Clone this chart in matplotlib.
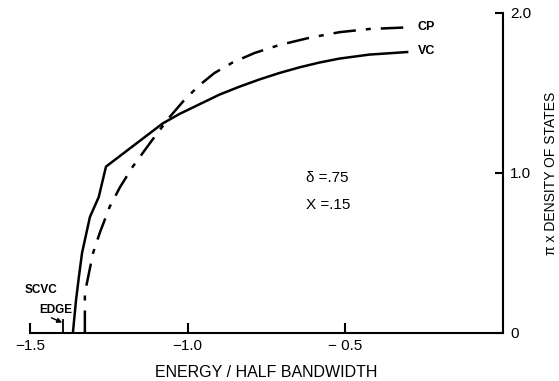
import matplotlib
matplotlib.use('Agg')
import matplotlib.pyplot as plt

# VC curve
E_vc = [-1.364, -1.354, -1.345, -1.335, -1.310, -1.282, -1.259, -1.079, -1.025, -0.962, -0.899,
        -0.835, -0.772, -0.709, -0.646, -0.583, -0.519, -0.424, -0.304]
D_vc = [0.0, 0.206, 0.35, 0.50, 0.725, 0.85, 1.04, 1.31, 1.37, 1.43, 1.49,
        1.54, 1.585, 1.625, 1.66, 1.69, 1.715, 1.74, 1.756]

# CP curve
E_cp = [-1.326, -1.326, -1.300, -1.278, -1.247, -1.215, -1.174, -1.111, -1.057, -1.009, -0.962,
        -0.915, -0.858, -0.788, -0.709, -0.614, -0.519, -0.424, -0.304]
D_cp = [0.0, 0.25, 0.50, 0.63, 0.79, 0.91, 1.04, 1.21, 1.35, 1.46, 1.55,
        1.625, 1.69, 1.75, 1.80, 1.845, 1.88, 1.90, 1.91]

scvc_edge = -1.396

xticks = [-1.5, -1.0, -0.5]
xticklabels = ['\u22121.5', '\u22121.0', '\u2212 0.5']
yticks = [0, 1.0, 2.0]
yticklabels = ['0', '1.0', '2.0']

plt.rcParams['font.family'] = ['Liberation Sans', 'DejaVu Sans']

fig = plt.figure(figsize=(5.59, 3.81), dpi=100)
ax = fig.add_axes([30/559, 48/381, 473/559, 320/381])

ax.plot(E_vc, D_vc, '-', color='black', lw=1.8, solid_joinstyle='round')
ax.plot(E_cp, D_cp, color='black', lw=1.8, dashes=(9, 4, 2, 4))

ax.set_xlim(-1.5, 0)
ax.set_ylim(0, 2.0)

ax.spines['left'].set_visible(False)
ax.spines['top'].set_visible(False)
ax.spines['right'].set_linewidth(1.5)
ax.spines['bottom'].set_linewidth(1.5)

ax.yaxis.tick_right()
ax.yaxis.set_label_position('right')
ax.set_xticks(xticks)
ax.set_xticklabels(xticklabels, fontsize=11)
ax.set_yticks(yticks)
ax.set_yticklabels(yticklabels, fontsize=11)
ax.tick_params(axis='x', direction='in', length=7, width=1.5, pad=4)
ax.tick_params(axis='y', direction='in', length=6, width=1.5, pad=5)

# edge tick
ax.plot([scvc_edge, scvc_edge], [0, 0.08], color='black', lw=1.3, clip_on=False)

ax.set_xlabel('ENERGY / HALF BANDWIDTH', fontsize=11.5, labelpad=9)
ax.set_ylabel('\u03c0 x DENSITY OF STATES', fontsize=10, labelpad=9, rotation=90)

ax.text(-0.27, 1.91, 'CP', fontsize=9, fontweight='bold', va='center', ha='left')
ax.text(-0.27, 1.76, 'VC', fontsize=9, fontweight='bold', va='center', ha='left')
ax.text(-0.625, 0.97, '\u03b4 =.75', fontsize=11, va='center', ha='left')
ax.text(-0.625, 0.80, 'X =.15', fontsize=11, va='center', ha='left')
ax.text(-1.517, 0.27, 'SCVC', fontsize=8.5, fontweight='bold', va='center', ha='left')
ax.text(-1.47, 0.145, 'EDGE', fontsize=8.5, fontweight='bold', va='center', ha='left')
ax.annotate('', xy=(scvc_edge - 0.002, 0.065), xytext=(-1.432, 0.095),
            arrowprops=dict(arrowstyle='-|>', color='black', lw=1, mutation_scale=7,
                            shrinkA=0, shrinkB=0))

fig.savefig('out.png', dpi=100)
